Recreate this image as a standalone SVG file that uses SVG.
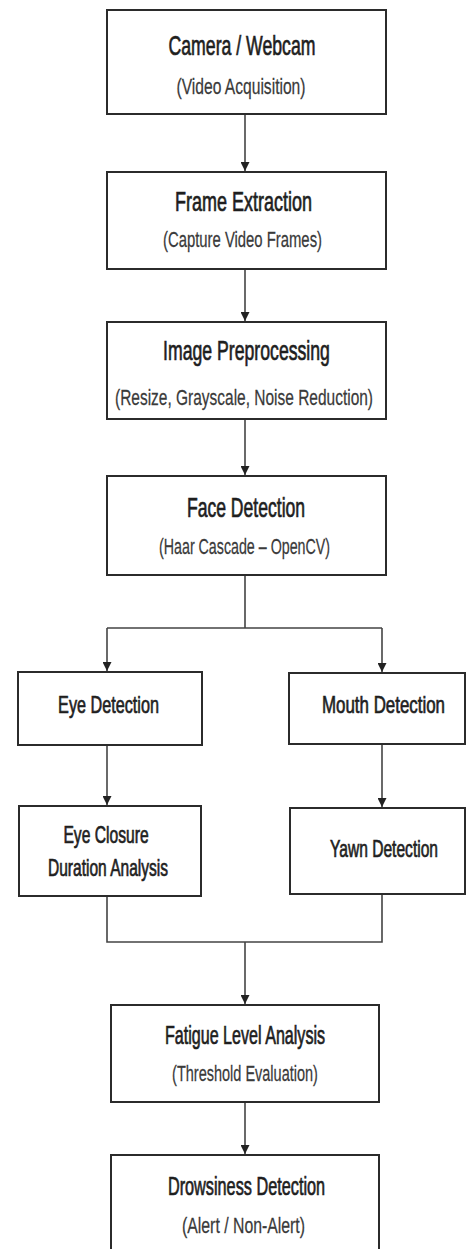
<svg xmlns="http://www.w3.org/2000/svg" width="467" height="1249" viewBox="0 0 467 1249">
<style>
.box{fill:#fff;stroke:#2b2b2b;stroke-width:2}
.t{font-family:"Liberation Sans",Arial,sans-serif;font-size:27px;fill:#1e1e1e;stroke:#1e1e1e;stroke-width:0.7;text-anchor:middle}
.s{font-family:"Liberation Sans",Arial,sans-serif;font-size:22px;fill:#3a3a3a;stroke:#3a3a3a;stroke-width:0.25;text-anchor:middle}
.c{fill:none;stroke:#444;stroke-width:1.6}
</style>
<defs>
<marker id="ah" viewBox="0 0 10 10" refX="10" refY="5" markerWidth="9" markerHeight="9" markerUnits="userSpaceOnUse" orient="auto">
<path d="M0,0 L10,5 L0,10 Z" fill="#222"/>
</marker>
</defs>
<rect width="467" height="1249" fill="#fff"/>
<g id="connectors">
<path class="c" d="M245,114 V171" marker-end="url(#ah)"/>
<path class="c" d="M245,269 V321" marker-end="url(#ah)"/>
<path class="c" d="M245,419 V475" marker-end="url(#ah)"/>
<path class="c" d="M245,575 V628 M107,628 H382"/>
<path class="c" d="M107,628 V671" marker-end="url(#ah)"/>
<path class="c" d="M382,628 V672" marker-end="url(#ah)"/>
<path class="c" d="M107,745 V805" marker-end="url(#ah)"/>
<path class="c" d="M382,744 V807" marker-end="url(#ah)"/>
<path class="c" d="M107,896 V942 H382 V894"/>
<path class="c" d="M245,942 V1004" marker-end="url(#ah)"/>
<path class="c" d="M245,1102 V1154" marker-end="url(#ah)"/>
</g>
<g id="camera">
<rect class="box" x="107" y="10" width="279" height="104"/>
<text class="t" transform="translate(242,55) scale(0.6,1)" textLength="245" lengthAdjust="spacingAndGlyphs">Camera / Webcam</text>
<text class="s" transform="translate(241,94) scale(0.6,1)" textLength="215" lengthAdjust="spacingAndGlyphs">(Video Acquisition)</text>
</g>
<g id="frame">
<rect class="box" x="107" y="172" width="279" height="97"/>
<text class="t" transform="translate(243.5,211) scale(0.6,1)" textLength="228" lengthAdjust="spacingAndGlyphs">Frame Extraction</text>
<text class="s" transform="translate(242.5,247) scale(0.6,1)" textLength="265" lengthAdjust="spacingAndGlyphs">(Capture Video Frames)</text>
</g>
<g id="preprocess">
<rect class="box" x="107" y="322" width="279" height="97"/>
<text class="t" transform="translate(246.5,360) scale(0.6,1)" textLength="278" lengthAdjust="spacingAndGlyphs">Image Preprocessing</text>
<text class="s" transform="translate(244,405) scale(0.6,1)" textLength="430" lengthAdjust="spacingAndGlyphs">(Resize, Grayscale,  Noise Reduction)</text>
</g>
<g id="face">
<rect class="box" x="107" y="476" width="279" height="99"/>
<text class="t" transform="translate(246,517) scale(0.6,1)" textLength="197" lengthAdjust="spacingAndGlyphs">Face Detection</text>
<text class="s" transform="translate(244.5,554) scale(0.6,1)" textLength="285" lengthAdjust="spacingAndGlyphs">(Haar Cascade – OpenCV)</text>
</g>
<g id="eye">
<rect class="box" x="18" y="672" width="184" height="73"/>
<text class="t" transform="translate(108.5,713) scale(0.6,1)" textLength="168" lengthAdjust="spacingAndGlyphs" style="font-size:24px">Eye Detection</text>
</g>
<g id="mouth">
<rect class="box" x="289" y="673" width="176" height="71"/>
<text class="t" transform="translate(383.5,713) scale(0.6,1)" textLength="205" lengthAdjust="spacingAndGlyphs" style="font-size:24px">Mouth Detection</text>
</g>
<g id="eyeclosure">
<rect class="box" x="19" y="806" width="182" height="90"/>
<text class="t" transform="translate(106,843) scale(0.6,1)" textLength="142" lengthAdjust="spacingAndGlyphs" style="font-size:23px">Eye Closure</text>
<text class="t" transform="translate(108,876) scale(0.6,1)" textLength="200" lengthAdjust="spacingAndGlyphs" style="font-size:23px">Duration Analysis</text>
</g>
<g id="yawn">
<rect class="box" x="290" y="808" width="175" height="86"/>
<text class="t" transform="translate(384,857) scale(0.6,1)" textLength="180" lengthAdjust="spacingAndGlyphs" style="font-size:23px">Yawn Detection</text>
</g>
<g id="fatigue">
<rect class="box" x="111" y="1005" width="268" height="97"/>
<text class="t" transform="translate(245,1044) scale(0.6,1)" textLength="267" lengthAdjust="spacingAndGlyphs" style="font-size:25px">Fatigue Level Analysis</text>
<text class="s" transform="translate(245,1081) scale(0.6,1)" textLength="243" lengthAdjust="spacingAndGlyphs">(Threshold Evaluation)</text>
</g>
<g id="drowsiness">
<rect class="box" x="111" y="1155" width="268" height="100"/>
<text class="t" transform="translate(246.5,1195) scale(0.6,1)" textLength="262" lengthAdjust="spacingAndGlyphs" style="font-size:25px">Drowsiness Detection</text>
<text class="s" transform="translate(243.5,1233) scale(0.6,1)" textLength="205" lengthAdjust="spacingAndGlyphs">(Alert / Non-Alert)</text>
</g>
</svg>
